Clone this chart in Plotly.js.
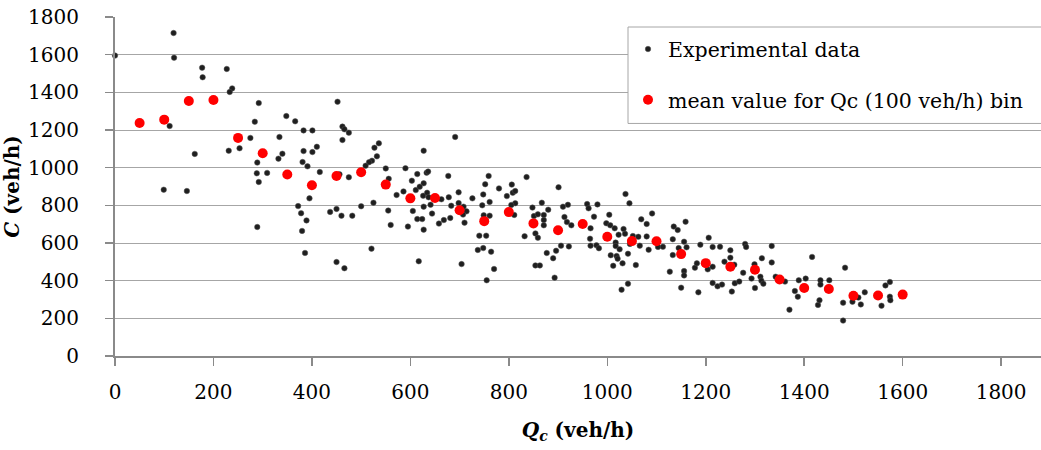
<!DOCTYPE html>
<html>
<head>
<meta charset="utf-8">
<script src="https://cdn.plot.ly/plotly-3.0.1.min.js"></script>
<style>html,body{margin:0;padding:0;background:#fff;}#chart{width:1041px;height:450px;}</style>
</head>
<body>
<div id="chart"></div>
<script>
// Experimental data: Qc (veh/h) and C (veh/h)
var expQc = [0,119,120,177,178,227,238,233,292,111,162,284,275,231,253,348,366,383,401,334,410,383,401,340,332,289,381,391,288,309,292,416,99,146,
  395,372,378,389,380,437,450,289,386,450,466,
  452,462,466,475,462,527,536,532,522,516,509,456,475,550,590,627,633,636,614,603,627,611,619,556,572,586,626,634,637,627,641,644,605,555,500,525,460,482,560,595,614,624,627,658,668,681,663,678,677,683,691,698,698,708,714,707,710,726,748,752,759,761,746,749,761,780,796,806,808,813,813,805,811,836,740,754,737,748,764,755,770,704,617,521,832,848,851,859,854,859,867,871,871,871,880,877,890,896,906,922,901,910,920,913,918,927,854,863,893,
  1037,1045,959,962,980,973,966,965,966,978,983,1004,998,1006,1015,1023,1033,1036,1017,1017,1025,1007,1019,1021,1012,1031,1042,1042,1029,1046,1052,1063,1066,1058,1069,1080,1091,1080,1084,1103,1113,1127,1133,1133,1135,1143,1159,1145,1156,1161,1156,1156,1150,1178,1182,1185,1189,1206,1214,1229,1204,1214,1214,1224,1233,1238,1250,1250,1253,1258,1259,1268,1276,1280,1282,1293,1299,1300,1311,1313,1317,1314,1334,1334,1342,1361,1370,1381,1387,1389,1403,1416,1428,1431,1433,1433,1451,
  1483,1479,1479,1498,1510,1515,1523,1557,1565,1574,1574,1575];
var expC = [1595,1715,1584,1531,1480,1524,1421,1402,1343,1221,1073,1244,1158,1090,1103,1274,1246,1198,1198,1163,1111,1088,1083,1074,1048,1027,1030,1007,970,972,924,977,883,876,
  837,796,758,720,664,765,781,685,547,499,466,
  1350,1218,1204,1186,1147,1106,1129,1060,1037,1029,1010,965,949,996,997,1090,973,979,966,931,917,881,899,941,855,874,851,867,843,793,803,756,770,772,795,814,745,745,696,687,727,727,671,703,722,733,832,843,956,798,1163,869,812,793,768,751,708,837,858,912,956,818,800,747,745,890,849,910,867,876,811,802,749,950,639,639,563,573,554,402,462,488,503,570,636,788,743,752,651,628,814,749,722,694,777,547,519,559,586,582,896,793,803,738,711,694,481,481,416,
  860,811,807,784,805,740,678,623,586,588,572,750,705,694,678,644,674,649,602,584,567,535,531,517,479,492,543,384,352,595,637,633,586,483,726,701,757,635,564,579,580,448,536,620,687,669,713,573,607,577,451,428,363,469,492,338,591,628,579,580,460,474,388,370,379,501,561,522,342,485,386,395,442,595,579,411,487,361,421,400,384,519,584,497,421,395,246,345,315,402,411,526,271,296,402,379,402,
  469,283,188,288,310,274,338,267,375,393,315,296];

// Mean value for each Qc (100 veh/h) bin
var binQc = [50,100,150,200,250,300,350,400,450,500,550,600,650,700,750,800,850,900,950,1000,1050,1100,1150,1200,1250,1300,1350,1400,1450,1500,1550,1600];
var binC = [1237,1255,1354,1359,1158,1077,964,907,956,976,910,837,839,774,716,764,704,668,701,633,610,609,541,493,474,458,406,361,356,320,321,326];

var xTicks = [0,200,400,600,800,1000,1200,1400,1600,1800];
var yTicks = [0,200,400,600,800,1000,1200,1400,1600,1800];

var FONT = "'DejaVu Serif', 'Liberation Serif', serif";

var traces = [
  {
    x: expQc, y: expC, type: 'scatter', mode: 'markers',
    name: 'Experimental data', legendgroup: 'a',
    cliponaxis: false,
    marker: {color: '#1f1f1f', size: 5.5, line: {color: '#555555', width: 0.5}}
  },
  {
    x: binQc, y: binC, type: 'scatter', mode: 'markers',
    name: 'mean value for Qc (100 veh/h) bin', legendgroup: 'b',
    cliponaxis: false,
    marker: {color: '#ff0000', size: 10}
  }
];

var layout = {
  width: 1041, height: 450,
  margin: {l: 115, r: 0, t: 17, b: 94},
  paper_bgcolor: '#ffffff', plot_bgcolor: '#ffffff',
  font: {family: FONT, size: 20, color: '#000000'},
  showlegend: true,
  legend: {
    x: 0.554, xanchor: 'left', y: 0.964, yanchor: 'top',
    bgcolor: 'rgba(0,0,0,0)', borderwidth: 0,
    traceorder: 'grouped', tracegroupgap: 21,
    font: {family: FONT, size: 20.5, color: '#000000'}
  },
  xaxis: {
    range: [0, 1881], tickmode: 'array', tickvals: xTicks, ticktext: xTicks.map(String),
    showgrid: false, zeroline: false,
    showline: true, linecolor: '#8a8a8a', linewidth: 2,
    ticks: 'outside', ticklen: 8, tickwidth: 1.5, tickcolor: '#8a8a8a',
    ticklabelstandoff: 9,
    tickfont: {family: FONT, size: 20, color: '#000000'},
    title: {text: '<b><i>Q<sub>c</sub></i> (veh/h)</b>', font: {family: FONT, size: 20, color: '#000000'}, standoff: 20}
  },
  yaxis: {
    range: [0, 1800], tickmode: 'array', tickvals: yTicks, ticktext: yTicks.map(String),
    showgrid: true, gridcolor: '#a6a6a6', gridwidth: 1,
    zeroline: false, automargin: true,
    showline: true, linecolor: '#8a8a8a', linewidth: 2,
    ticks: 'outside', ticklen: 8, tickwidth: 1.5, tickcolor: '#8a8a8a',
    ticklabelstandoff: 22,
    tickfont: {family: FONT, size: 20, color: '#000000'},
    title: {text: '<b><i>C</i> (veh/h)</b>', font: {family: FONT, size: 20, color: '#000000'}, standoff: 10}
  },
  shapes: [
    {type: 'rect', xref: 'paper', yref: 'paper', x0: 0.554, x1: 1.02, y0: 0.686, y1: 0.9705,
     fillcolor: '#ffffff', line: {color: '#a6a6a6', width: 1}, layer: 'above'}
  ]
};

Plotly.newPlot('chart', traces, layout, {displayModeBar: false, staticPlot: true});
</script>
</body>
</html>
